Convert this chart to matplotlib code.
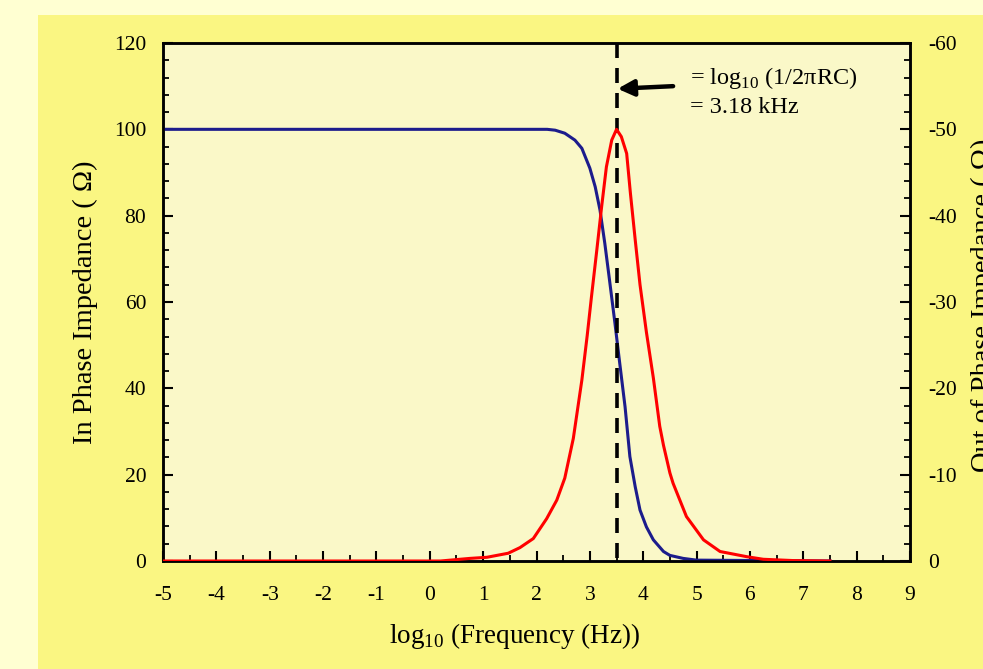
import matplotlib
matplotlib.use("Agg")
import matplotlib.pyplot as plt
from matplotlib.patches import Rectangle
from matplotlib.ticker import MultipleLocator

plt.rcParams['font.family'] = ['Liberation Serif', 'DejaVu Serif']
plt.rcParams['mathtext.fontset'] = 'custom'
plt.rcParams['mathtext.rm'] = 'Liberation Serif'
plt.rcParams['axes.unicode_minus'] = False
plt.rcParams['lines.scale_dashes'] = False

# ---- data ----
freq_log_blue = [-5, 2.2, 2.35, 2.53, 2.72, 2.85, 3.0, 3.1, 3.19, 3.28, 3.36, 3.47,
                 3.56, 3.66, 3.75, 3.85, 3.94, 4.06, 4.19, 4.38, 4.5, 4.75, 5.0, 7.5]
in_phase = [100, 100, 99.8, 99.1, 97.5, 95.6, 91.0, 86.7, 81.3, 73.6, 65.9, 55.1,
            45.8, 35.7, 24.2, 17.2, 11.8, 7.9, 4.9, 2.2, 1.3, 0.6, 0.2, 0.0]

freq_log_red = [-5, 0.2, 0.75, 1.07, 1.47, 1.69, 1.94, 2.19, 2.38, 2.53, 2.69, 2.85,
                2.95, 3.03, 3.13, 3.22, 3.31, 3.41, 3.5, 3.59, 3.69, 3.76, 3.85, 3.94,
                4.06, 4.19, 4.31, 4.38, 4.5, 4.56, 4.81, 5.13, 5.44, 5.94, 6.25, 6.81, 7.5]
out_phase = [0, 0, -0.3, -0.43, -0.9, -1.55, -2.6, -4.9, -7.05, -9.6, -14.2, -20.95,
             -26.1, -30.6, -36.0, -41.0, -45.65, -48.75, -50.0, -49.15, -47.2, -42.6, -37.2, -32.0,
             -26.5, -21.2, -15.6, -13.4, -10.2, -9.0, -5.15, -2.45, -1.1, -0.5, -0.2, -0.05, 0]

x_ticks = list(range(-5, 10))
left_ticks = [0, 20, 40, 60, 80, 100, 120]
right_ticks = [0, -10, -20, -30, -40, -50, -60]
f_corner_log = 3.5

W, H = 983, 669
fig = plt.figure(figsize=(W / 100, H / 100), dpi=100)
fig.patch.set_facecolor('#FFFFD2')
bg = Rectangle((38 / W, 0), 1 - 38 / W, (H - 15) / H,
               transform=fig.transFigure, facecolor='#FAF682',
               edgecolor='none', zorder=-10)
fig.add_artist(bg)

ax = fig.add_axes([163 / W, (H - 561) / H, (910 - 163) / W, (561 - 43) / H])
ax.set_facecolor('#FAF8C8')
ax.plot(freq_log_blue, in_phase, color='#1C1C8C', lw=2.2, zorder=3)
ax.plot([f_corner_log, f_corner_log], [120, 0], color='black', lw=2.6,
        dashes=(10.8, 7.2), zorder=4)
ax.set_xlim(-5, 9)
ax.set_ylim(0, 120)
ax.set_xticks(x_ticks)
ax.set_xticklabels([str(t) for t in x_ticks])
ax.set_yticks(left_ticks)
ax.xaxis.set_minor_locator(MultipleLocator(0.5))
ax.yaxis.set_minor_locator(MultipleLocator(4))
ax.tick_params(axis='both', which='major', direction='in', length=7, width=1.5,
               labelsize=15.5, colors='black')
ax.tick_params(axis='both', which='minor', direction='in', length=4, width=1.3)
ax.tick_params(axis='x', which='both', top=False, pad=18)
ax.tick_params(axis='y', which='both', right=False, pad=12)
for s in ax.spines.values():
    s.set_linewidth(1.8)

ax2 = ax.twinx()
ax2.plot(freq_log_red, out_phase, color='#FF0000', lw=2.2, zorder=3)
ax2.set_ylim(0, -60)
ax2.set_yticks(right_ticks)
ax2.set_yticklabels([str(t) for t in right_ticks])
ax2.yaxis.set_minor_locator(MultipleLocator(2))
ax2.tick_params(axis='y', which='major', direction='in', length=7, width=1.5,
                labelsize=15.5, pad=13)
ax2.tick_params(axis='y', which='minor', direction='in', length=4, width=1.3)
for s in ax2.spines.values():
    s.set_linewidth(1.8)

ax.annotate('', xy=(3.52, 109.4), xytext=(4.56, 110.0),
            arrowprops=dict(arrowstyle='-|>', lw=3.2, color='black',
                            mutation_scale=24, shrinkA=0, shrinkB=0), zorder=5)
ax.text(4.88, 111.9, r'= log$_{\mathregular{10}}$ (1/2$\mathregular{\pi}$RC)', fontsize=17.5,
        ha='left', va='center')
ax.text(4.88, 105.0, '= 3.18 kHz', fontsize=17.5, ha='left', va='center')

fig.text(515 / W, (H - 636) / H, r'log$_{\mathregular{10}}$ (Frequency (Hz))', fontsize=19.5,
         ha='center', va='center')
fig.text(73 / W, (H - 302) / H, 'In Phase Impedance ( Ω)', fontsize=20.5,
         rotation=90, ha='left', va='center')
fig.text(971 / W, (H - 305) / H, 'Out of Phase Impedance ( Ω)', fontsize=20.5,
         rotation=90, ha='left', va='center')

fig.savefig('out.png', dpi=100, facecolor=fig.get_facecolor())
